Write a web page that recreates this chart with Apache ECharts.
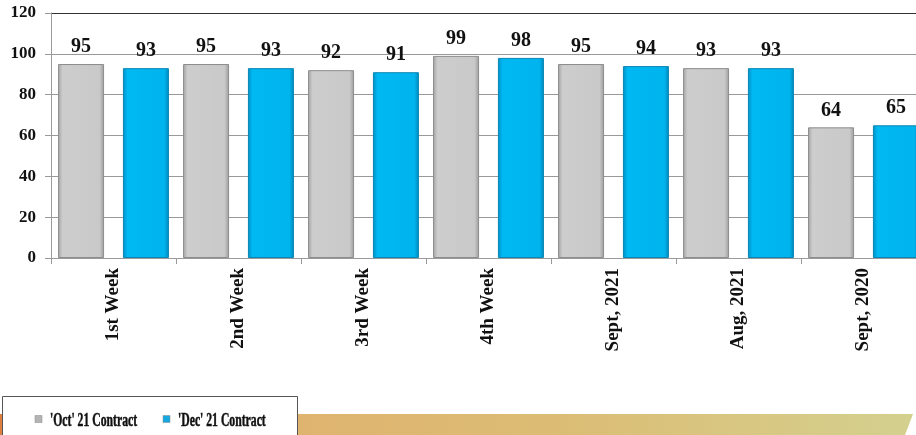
<!DOCTYPE html>
<html>
<head>
<meta charset="utf-8">
<script src="https://cdn.jsdelivr.net/npm/echarts@6/dist/echarts.min.js"></script>
<style>
  html, body { margin: 0; padding: 0; background: #fff; }
  #root { width: 916px; height: 435px; }
</style>
</head>
<body>
<div id="root"></div>
<script>
var categories = ['1st Week', '2nd Week', '3rd Week', '4th Week', 'Sept, 2021', 'Aug, 2021', 'Sept, 2020'];
var octValues = [95, 95, 92, 99, 95, 93, 64];
var decValues = [93, 93, 91, 98, 94, 93, 65];
var seriesNames = ["'Oct' 21 Contract", "'Dec' 21 Contract"];

var serif = '"Liberation Serif", "DejaVu Serif", serif';

var grayFill = new echarts.graphic.LinearGradient(0, 0, 1, 0, [
    { offset: 0, color: '#a4a4a4' },
    { offset: 0.1, color: '#cdcdcd' },
    { offset: 0.9, color: '#c9c9c9' },
    { offset: 1, color: '#9c9c9c' }
]);
var blueFill = new echarts.graphic.LinearGradient(0, 0, 1, 0, [
    { offset: 0, color: '#0090c4' },
    { offset: 0.1, color: '#00b8f2' },
    { offset: 0.9, color: '#00b4ee' },
    { offset: 1, color: '#0088bc' }
]);

// legend drawn as graphic so the text can be squeezed like the original
var legendItem = function (x, name, fill) {
    return [
        {
            type: 'rect',
            z: 5,
            shape: { x: x, y: 415.5, width: 7, height: 7 },
            style: { fill: fill, stroke: '#888', lineWidth: 0.5 }
        },
        {
            type: 'text',
            z: 5,
            x: x + 15,
            y: 421,
            scaleX: 0.65,
            style: {
                text: name,
                x: 0,
                y: 0,
                fill: '#111',
                stroke: '#111',
                lineWidth: 0.5,
                font: 'bold 18px ' + serif,
                verticalAlign: 'middle'
            }
        }
    ];
};

var chart = echarts.init(document.getElementById('root'));
var valueLabel = {
    show: true,
    position: 'top',
    distance: 7,
    color: '#111',
    fontFamily: serif,
    fontWeight: 'bold',
    fontSize: 20
};
var option = {
    animation: false,
    grid: {
        left: 51,
        width: 875,
        top: 13,
        bottom: 177,
        outerBoundsMode: 'none'
    },
    graphic: [
        {
            type: 'polygon',
            z: 1,
            shape: { points: [[0, 414], [913, 414], [905, 435], [0, 435]] },
            style: {
                fill: new echarts.graphic.LinearGradient(0, 0, 1, 0, [
                    { offset: 0, color: '#de7a3a' },
                    { offset: 0.01, color: '#e2aa6a' },
                    { offset: 0.6, color: '#dcbc74' },
                    { offset: 1, color: '#d4d08e' }
                ])
            }
        },
        {
            type: 'rect',
            z: 2,
            shape: { x: 2.5, y: 396.5, width: 295, height: 50 },
            style: { fill: '#ffffff', stroke: '#555555', lineWidth: 1 }
        }
    ].concat(
        legendItem(35, seriesNames[0], '#b4b4b4'),
        legendItem(163, seriesNames[1], '#14a8e0')
    ),
    xAxis: {
        type: 'category',
        data: categories,
        axisLine: { lineStyle: { color: '#9a9a9a' } },
        axisTick: { show: true, length: 6, lineStyle: { color: '#9a9a9a' } },
        axisLabel: {
            rotate: 90,
            margin: 10,
            color: '#111',
            fontFamily: serif,
            fontWeight: 'bold',
            fontSize: 19
        }
    },
    yAxis: {
        type: 'value',
        min: 0,
        max: 120,
        interval: 20,
        axisLine: { show: true, lineStyle: { color: '#9a9a9a' } },
        axisTick: { show: true, length: 6, lineStyle: { color: '#9a9a9a' } },
        axisLabel: {
            margin: 15,
            color: '#111',
            fontFamily: serif,
            fontWeight: 'bold',
            fontSize: 17
        },
        splitLine: {
            lineStyle: {
                color: ['#999999', '#999999', '#999999', '#999999', '#999999', '#999999', '#333333'],
                width: 1
            }
        }
    },
    series: [
        {
            name: seriesNames[0],
            type: 'bar',
            data: octValues,
            barWidth: 46,
            barGap: '41%',
            itemStyle: { color: grayFill, borderColor: '#8c8c8c', borderWidth: 1 },
            label: valueLabel
        },
        {
            name: seriesNames[1],
            type: 'bar',
            data: decValues,
            barWidth: 46,
            itemStyle: { color: blueFill, borderColor: '#0a86b4', borderWidth: 1 },
            label: valueLabel
        }
    ]
};
chart.setOption(option);
</script>
</body>
</html>
